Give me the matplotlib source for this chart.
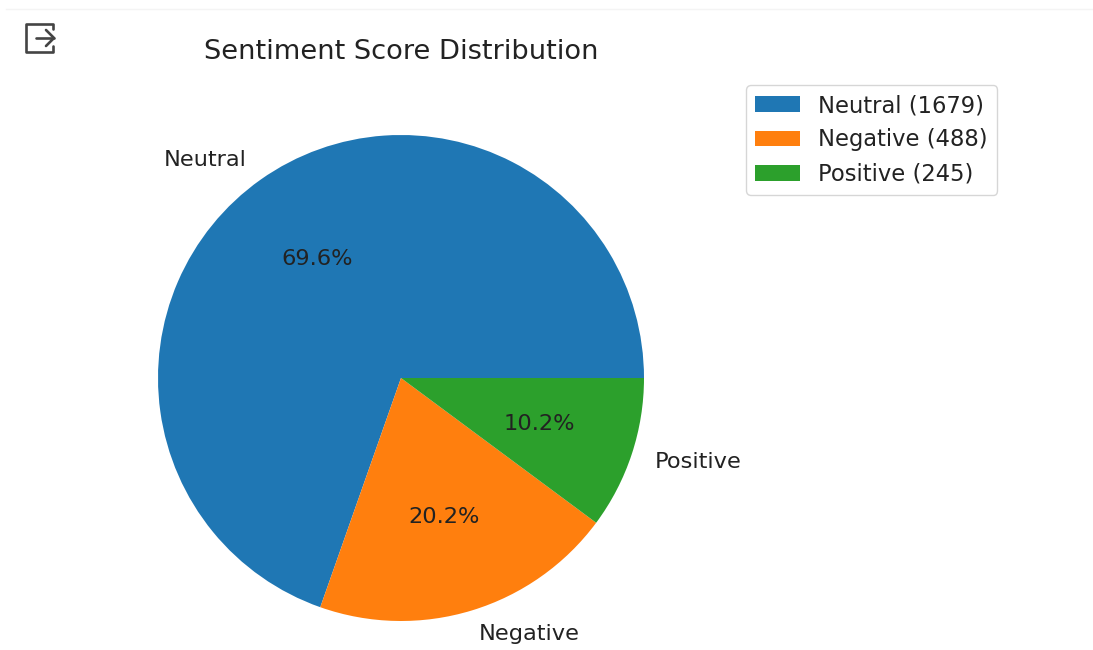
import matplotlib.pyplot as plt

labels = ['Neutral', 'Negative', 'Positive']
counts = [1679, 488, 245]

fig = plt.figure(figsize=(10.93, 6.5), dpi=100)
ax = fig.add_axes([0, 0, 1, 1])
ax.axis('off')

# pie axes, square, centre at about (401, 378) px, radius 243 px
pie_ax = fig.add_axes([(401 - 243) / 1093, 1 - (378 + 243) / 650, 486 / 1093, 486 / 650])
wedges, texts, autotexts = pie_ax.pie(counts, labels=labels, autopct='%1.1f%%',
                                      radius=1.0, labeldistance=1.1, pctdistance=0.6,
                                      textprops={'fontsize': 16.2, 'color': '#222222'})
pie_ax.set_xlim(-1, 1)
pie_ax.set_ylim(-1, 1)

fig.text(401 / 1093, 1 - 52 / 650, 'Sentiment Score Distribution', ha='center', va='center',
         fontsize=19.6, color='#222222')

legend_labels = ['{} ({})'.format(l, c) for l, c in zip(labels, counts)]
fig.legend(wedges, legend_labels, loc='upper left', bbox_to_anchor=(746 / 1093, 1 - 85 / 650),
           fontsize=16.3, borderaxespad=0, labelcolor='#222222')

# export icon at the top left
ax.set_xlim(0, 1093)
ax.set_ylim(650, 0)
ax.plot([53, 53, 26, 26, 53, 53], [29, 24, 24, 52, 52, 46], color='#444444', lw=1.9,
        solid_capstyle='round', solid_joinstyle='round')
ax.plot([36, 54], [38, 38], color='#444444', lw=1.9, solid_capstyle='round')
ax.plot([46, 54, 46], [30, 38, 46], color='#444444', lw=1.9,
        solid_capstyle='round', solid_joinstyle='round')
ax.plot([6, 1093], [8.5, 8.5], color='#f4f4f4', lw=1)

fig.savefig('out.png', dpi=100)
